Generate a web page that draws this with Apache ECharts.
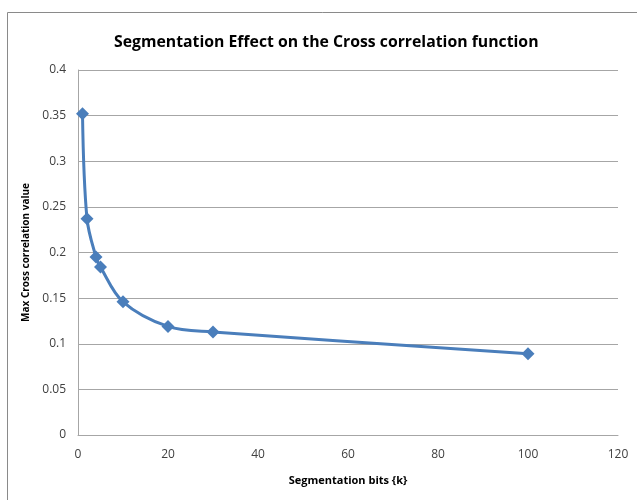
<!DOCTYPE html>
<html><head><meta charset="utf-8">
<script src="https://cdn.jsdelivr.net/npm/echarts@6/dist/echarts.min.js"></script>
<style>html,body{margin:0;padding:0;background:#fff}#c{width:637px;height:500px}</style>
</head><body><div id="c"></div>
<script>
const titleText = 'Segmentation Effect on the Cross correlation function';
const xName = 'Segmentation bits {k}';
const yName = 'Max Cross correlation value';
const segBits = [1, 2, 4, 5, 10, 20, 30, 100];
const maxCorr = [0.352, 0.237, 0.195, 0.184, 0.146, 0.119, 0.113, 0.089];
const chart = echarts.init(document.getElementById('c'), null, {renderer: 'canvas'});
const font = 'Open Sans, Noto Sans, sans-serif';
chart.setOption({
  animation: false,
  backgroundColor: '#fff',
  graphic: [{type: 'rect', shape: {x: 7.5, y: 12.5, width: 640, height: 500},
    style: {fill: 'none', stroke: '#8a8a8a', lineWidth: 1}, silent: true}],
  title: {text: titleText, left: 109, top: 29,
    textStyle: {fontFamily: font, fontSize: 15.8, fontWeight: 'bold', color: '#000'}},
  grid: {left: 78, right: 19, top: 70, bottom: 65},
  xAxis: {type: 'value', min: 0, max: 120, interval: 20,
    name: xName, nameLocation: 'middle', nameGap: 40,
    nameTextStyle: {fontFamily: font, fontSize: 11, fontWeight: 'bold', color: '#000'},
    axisLine: {show: true, lineStyle: {color: '#a6a6a6'}}, axisTick: {show: false},
    axisLabel: {fontFamily: font, fontSize: 12, color: '#404040', margin: 14},
    splitLine: {show: false}},
  yAxis: {type: 'value', min: 0, max: 0.4, interval: 0.05,
    name: yName, nameLocation: 'middle', nameGap: 42,
    nameTextStyle: {fontFamily: font, fontSize: 10, fontWeight: 'bold', color: '#000'},
    axisLine: {show: true, lineStyle: {color: '#a6a6a6'}}, axisTick: {show: false},
    axisLabel: {fontFamily: font, fontSize: 12, color: '#404040', margin: 12},
    splitLine: {show: true, lineStyle: {color: '#a6a6a6', width: 1}}},
  series: [{type: 'line', data: segBits.map((x, i) => [x, maxCorr[i]]),
    smooth: 0.35, symbol: 'diamond', symbolSize: 13,
    lineStyle: {color: '#4a7ebb', width: 3},
    itemStyle: {color: '#4a7ebb'}}]
});
</script></body></html>
